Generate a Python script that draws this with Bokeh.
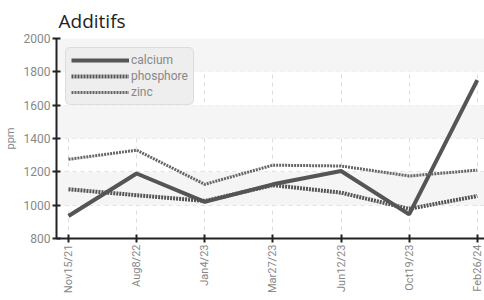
import math
from bokeh.plotting import figure
from bokeh.models import Legend, LegendItem, FixedTicker, Range1d, BoxAnnotation
from bokeh.embed import file_html
from bokeh.resources import INLINE

dates = ["Nov15/21", "Aug8/22", "Jan4/23", "Mar27/23", "Jun12/23", "Oct19/23", "Feb26/24"]
calcium = [935, 1190, 1020, 1125, 1205, 945, 1750]
phosphore = [1095, 1060, 1025, 1120, 1075, 978, 1055]
zinc = [1275, 1330, 1125, 1240, 1235, 1175, 1210]
y_ticks = [800, 1000, 1200, 1400, 1600, 1800, 2000]

FONT = "Roboto"
xs = list(range(len(dates)))

p = figure(frame_width=431, frame_height=200, output_backend="svg", toolbar_location=None,
           x_range=Range1d(-0.176, 6.15), y_range=Range1d(800, 2000),
           title="Additifs", min_border_left=5, min_border_right=0, min_border_top=3,
           min_border_bottom=0)
p.title.text_font = "Open Sans"
p.title.text_font_size = "19px"
p.title.text_font_style = "normal"
p.title.text_color = "#222222"
p.title.offset = 2
p.outline_line_color = None

p.xaxis.ticker = FixedTicker(ticks=xs)
p.xaxis.major_label_overrides = {i: d for i, d in enumerate(dates)}
p.xaxis.major_label_orientation = math.pi / 2
p.yaxis.ticker = FixedTicker(ticks=y_ticks)
p.yaxis.axis_label = "ppm"

for ax in (p.xaxis, p.yaxis):
    ax.axis_line_color = "#222222"
    ax.axis_line_width = 2
    ax.major_tick_line_color = "#222222"
    ax.major_tick_line_width = 2
    ax.major_tick_in = 4
    ax.major_tick_out = 4
    ax.minor_tick_line_color = None
    ax.major_label_text_font = FONT
    ax.major_label_text_font_size = "12px"
    ax.major_label_text_color = "#888888"
    ax.major_label_standoff = 2
p.xaxis.major_label_text_font_size = "11px"
p.yaxis.axis_label_text_font = FONT
p.yaxis.axis_label_text_font_size = "11px"
p.yaxis.axis_label_text_font_style = "normal"
p.yaxis.axis_label_text_color = "#888888"
p.yaxis.axis_label_standoff = 4

p.xgrid.grid_line_color = "#dddddd"
p.xgrid.grid_line_dash = "4 4"
p.ygrid.grid_line_color = "#dddddd"
p.ygrid.grid_line_dash = "4 4"

# alternating horizontal bands (every other tick interval, starting from the top)
for i in range(len(y_ticks) - 1, 0, -2):
    p.add_layout(BoxAnnotation(bottom=y_ticks[i - 1], top=y_ticks[i],
                               fill_color="#f5f5f5", fill_alpha=1.0,
                               line_color=None, level="underlay"))

r1 = p.line(xs, calcium, line_color="#555555", line_width=4)
r2 = p.line(xs, phosphore, line_color="#555555", line_width=4, line_dash="2 1")
r3 = p.line(xs, zinc, line_color="#666666", line_width=3, line_dash="2 1")

legend = Legend(items=[LegendItem(label="calcium", renderers=[r1]),
                       LegendItem(label="phosphore", renderers=[r2]),
                       LegendItem(label="zinc", renderers=[r3])],
                location="top_left")
legend.background_fill_color = "#eeeeee"
legend.background_fill_alpha = 1.0
legend.border_line_color = "#cccccc"
legend.border_radius = 5
legend.label_text_font = FONT
legend.label_text_font_size = "12px"
legend.label_text_color = "#888888"
legend.glyph_width = 58
legend.glyph_height = 14
legend.label_height = 14
legend.spacing = 2
legend.padding = 5
legend.margin = 9
legend.label_standoff = 2
p.add_layout(legend)

open("out.html", "w").write(file_html(p, INLINE))
